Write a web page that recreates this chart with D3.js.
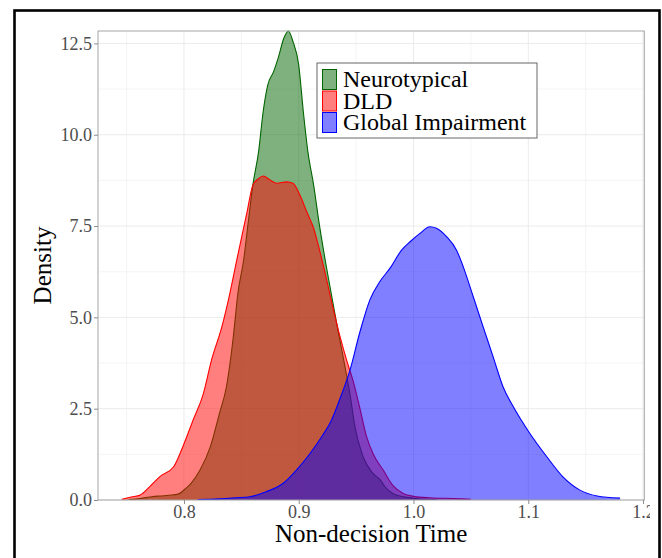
<!DOCTYPE html>
<html lang="en">
<head>
  <meta charset="UTF-8">
  <title>Non-decision Time density</title>
  <script src="https://d3js.org/d3.v7.min.js"></script>
  <style>
    body { margin: 0; background: #fff; }
    svg { display: block; font-family: "Liberation Serif", "DejaVu Serif", serif; }
    .grid-major { stroke: #ebebeb; stroke-width: 1; }
    .grid-minor { stroke: #f1f1f1; stroke-width: 0.8; }
    .axis text { fill: #4d4d4d; font-size: 18px; font-family: "Liberation Serif", serif; }
    .axis line { stroke: #8c8c8c; }
    .axis path { display: none; }
  </style>
</head>
<body>
<svg width="662" height="558"></svg>
<script>
  // density curves (time, density)
  const groups = ["Neurotypical", "DLD", "Global Impairment"];
  const colors = ["#006400", "#ff0000", "#0000ff"];

  const ntTime = [0.752, 0.762, 0.772, 0.779, 0.787, 0.795, 0.801, 0.806, 0.814, 0.823, 0.831, 0.837,
    0.843, 0.847, 0.852, 0.856, 0.860, 0.865, 0.869, 0.873, 0.878, 0.882, 0.887, 0.891, 0.895, 0.900,
    0.904, 0.908, 0.913, 0.918, 0.924, 0.933, 0.940, 0.945, 0.949, 0.956, 0.964, 0.971, 0.975, 0.982,
    0.991, 1.000, 1.010, 1.020];
  const ntDensity = [0.01, 0.04, 0.09, 0.11, 0.13, 0.16, 0.30, 0.45, 0.82, 1.46, 2.38, 3.10,
    4.47, 5.66, 6.57, 7.60, 8.62, 9.53, 10.63, 11.36, 11.72, 12.09, 12.64, 12.84, 12.55, 11.91,
    10.63, 9.53, 8.62, 7.53, 6.40, 4.84, 3.70, 2.83, 2.00, 1.19, 0.75, 0.55, 0.37, 0.18,
    0.09, 0.05, 0.02, 0.01];

  const dldTime = [0.7457, 0.754, 0.762, 0.770, 0.779, 0.791, 0.799, 0.808, 0.817, 0.824, 0.833, 0.840,
    0.846, 0.855, 0.860, 0.865, 0.869, 0.875, 0.881, 0.8895, 0.895, 0.901, 0.907, 0.913, 0.9185,
    0.922, 0.929, 0.936, 0.942, 0.9475, 0.953, 0.959, 0.965, 0.974, 0.982, 0.991, 1.000, 1.014,
    1.035, 1.050];
  const dldDensity = [0.02, 0.08, 0.14, 0.36, 0.64, 0.91, 1.46, 2.19, 2.92, 3.83, 4.74, 5.66,
    6.57, 7.89, 8.62, 8.80, 8.87, 8.76, 8.67, 8.71, 8.67, 8.35, 7.89, 7.44, 6.80,
    6.35, 5.38, 4.47, 3.80, 3.25, 2.55, 1.75, 1.25, 0.80, 0.40, 0.18, 0.10, 0.06,
    0.04, 0.02];

  const giTime = [0.812, 0.831, 0.845, 0.8575, 0.872, 0.8865, 0.898, 0.910, 0.920, 0.9286, 0.936,
    0.9446, 0.9533, 0.962, 0.9707, 0.9794, 0.9896, 0.997, 1.0056, 1.0143, 1.020, 1.0288, 1.0375,
    1.0433, 1.052, 1.0607, 1.0694, 1.078, 1.087, 1.1014, 1.116, 1.130, 1.145, 1.160, 1.180];
  const giDensity = [0.01, 0.03, 0.06, 0.09, 0.23, 0.46, 0.82, 1.28, 1.73, 2.19, 2.78,
    3.55, 4.60, 5.48, 5.98, 6.34, 6.84, 7.07, 7.30, 7.48, 7.44, 7.21, 6.84,
    6.39, 5.57, 4.74, 3.92, 3.10, 2.55, 1.82, 1.19, 0.64, 0.27, 0.11, 0.05];

  const xTicks = [0.8, 0.9, 1.0, 1.1, 1.2];
  const xMinor = [0.75, 0.85, 0.95, 1.05, 1.15];
  const yTicks = [0, 2.5, 5, 7.5, 10, 12.5];
  const yMinor = [1.25, 3.75, 6.25, 8.75, 11.25];

  const series = [
    { name: groups[0], color: colors[0], pts: d3.zip(ntTime, ntDensity) },
    { name: groups[1], color: colors[1], pts: d3.zip(dldTime, dldDensity) },
    { name: groups[2], color: colors[2], pts: d3.zip(giTime, giDensity) }
  ];

  const svg = d3.select("svg");
  const panel = { left: 98, right: 644.3, top: 31, bottom: 500 };

  const x = d3.scaleLinear().domain([0.7251, 1.2011]).range([panel.left, panel.right]);
  const y = d3.scaleLinear().domain([0, 12.84]).range([panel.bottom, panel.top]);

  // the original picture is cut off just right of the panel
  svg.append("clipPath").attr("id", "cut")
    .append("rect").attr("x", 0).attr("y", 0).attr("width", 650).attr("height", 558);
  svg.append("clipPath").attr("id", "panelClip")
    .append("rect").attr("x", panel.left).attr("y", panel.top - 1)
    .attr("width", panel.right - panel.left).attr("height", panel.bottom - panel.top + 1);

  const g = svg.append("g").attr("clip-path", "url(#cut)");

  // grid
  g.selectAll(".xminor").data(xMinor).enter().append("line").attr("class", "grid-minor")
    .attr("x1", d => x(d)).attr("x2", d => x(d)).attr("y1", panel.top).attr("y2", panel.bottom);
  g.selectAll(".yminor").data(yMinor).enter().append("line").attr("class", "grid-minor")
    .attr("y1", d => y(d)).attr("y2", d => y(d)).attr("x1", panel.left).attr("x2", panel.right);
  g.selectAll(".xmajor").data(xTicks).enter().append("line").attr("class", "grid-major")
    .attr("x1", d => x(d)).attr("x2", d => x(d)).attr("y1", panel.top).attr("y2", panel.bottom);
  g.selectAll(".ymajor").data(yTicks).enter().append("line").attr("class", "grid-major")
    .attr("y1", d => y(d)).attr("y2", d => y(d)).attr("x1", panel.left).attr("x2", panel.right);

  // densities
  const area = d3.area().x(d => x(d[0])).y0(y(0)).y1(d => y(d[1])).curve(d3.curveMonotoneX);
  const line = d3.line().x(d => x(d[0])).y(d => y(d[1])).curve(d3.curveMonotoneX);
  const dens = g.append("g").attr("clip-path", "url(#panelClip)");
  series.forEach(s => {
    dens.append("path").attr("d", area(s.pts))
      .attr("fill", s.color).attr("fill-opacity", 0.5);
    dens.append("path").attr("d", line(s.pts))
      .attr("fill", "none").attr("stroke", s.color).attr("stroke-width", 1.1);
  });

  // panel border
  g.append("rect")
    .attr("x", panel.left).attr("y", panel.top)
    .attr("width", panel.right - panel.left).attr("height", panel.bottom - panel.top)
    .attr("fill", "none").attr("stroke", "#a6a6a6").attr("stroke-width", 1);

  // axes
  g.append("g").attr("class", "axis")
    .attr("transform", `translate(0,${panel.bottom})`)
    .call(d3.axisBottom(x).tickValues(xTicks).tickFormat(d3.format(".1f")).tickSize(4).tickPadding(1));
  g.append("g").attr("class", "axis")
    .attr("transform", `translate(${panel.left},0)`)
    .call(d3.axisLeft(y).tickValues(yTicks).tickFormat(d3.format(".1f")).tickSize(4).tickPadding(2));

  // titles
  g.append("text")
    .attr("x", (panel.left + panel.right) / 2).attr("y", 541.5)
    .attr("text-anchor", "middle").attr("font-size", 25).attr("fill", "#000")
    .text("Non-decision Time");
  g.append("text")
    .attr("transform", `translate(50.5,${(panel.top + panel.bottom) / 2}) rotate(-90)`)
    .attr("text-anchor", "middle").attr("font-size", 25).attr("fill", "#000")
    .text("Density");

  // legend
  const leg = g.append("g").attr("transform", "translate(317,63)");
  leg.append("rect").attr("width", 220).attr("height", 75)
    .attr("fill", "#fff").attr("stroke", "#666").attr("stroke-width", 1);
  series.forEach((s, i) => {
    const row = leg.append("g").attr("transform", `translate(5.5,${6.5 + i * 21.5})`);
    row.append("rect").attr("width", 14).attr("height", 20)
      .attr("fill", s.color).attr("fill-opacity", 0.5)
      .attr("stroke", s.color).attr("stroke-width", 1);
    row.append("text").attr("x", 20.5).attr("y", 17.5)
      .attr("font-size", 24).attr("fill", "#000").text(s.name);
  });

  // outer frame
  svg.append("rect")
    .attr("x", 14.5).attr("y", 10.5).attr("width", 645).attr("height", 580)
    .attr("fill", "none").attr("stroke", "#000").attr("stroke-width", 2.6);
</script>
</body>
</html>
